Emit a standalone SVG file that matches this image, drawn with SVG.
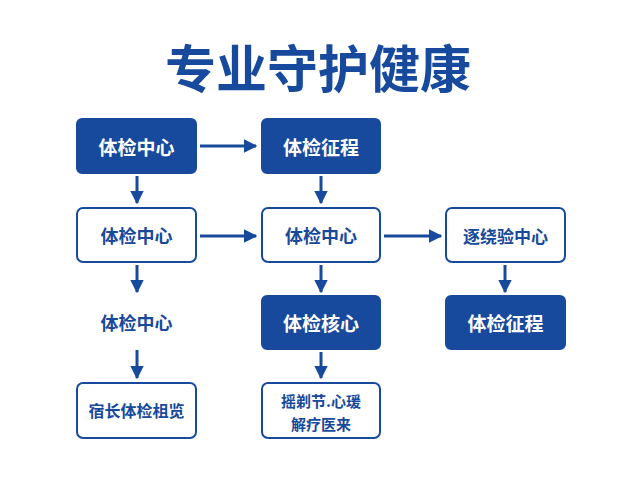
<svg xmlns="http://www.w3.org/2000/svg" width="640" height="480" viewBox="0 0 640 480">
<style>
text{font-family:"Noto Sans CJK SC","Noto Sans",sans-serif;font-weight:bold;text-anchor:middle;dominant-baseline:central}
.f rect{fill:#174a9c;stroke:#174a9c;stroke-width:2}
.f text{fill:#fff;font-size:19px}
.o rect{fill:#fff;stroke:#174a9c;stroke-width:2}
.o text,.p text{fill:#174a9c;font-size:18px}
.c line{stroke:#174a9c;stroke-width:3;marker-end:url(#a)}
</style>
<defs><marker id="a" viewBox="0 0 10 10" refX="9" refY="5" markerWidth="4.5" markerHeight="4.5" orient="auto" markerUnits="strokeWidth"><path d="M0,0L10,5L0,10z" fill="#174a9c"/></marker></defs>
<rect width="640" height="480" fill="#fff"/>
<text x="318" y="66" style="font-size:51px;fill:#174a9c">专业守护健康</text>
<g id="n1" class="f"><rect x="77" y="119" width="119" height="54" rx="5"/><text x="136.5" y="146">体检中心</text></g>
<g id="n2" class="f"><rect x="262" y="119" width="118" height="54" rx="5"/><text x="321" y="146">体检征程</text></g>
<g id="n3" class="o"><rect x="77" y="208" width="119" height="54" rx="6"/><text x="136.5" y="235">体检中心</text></g>
<g id="n4" class="o"><rect x="262" y="208" width="118" height="54" rx="6"/><text x="321" y="235">体检中心</text></g>
<g id="n5" class="o"><rect x="446" y="208" width="119" height="54" rx="6"/><text x="505.5" y="235" style="font-size:17px">逐绕验中心</text></g>
<g id="n6" class="p"><text x="136.5" y="322">体检中心</text></g>
<g id="n7" class="f"><rect x="262" y="296" width="118" height="53" rx="5"/><text x="321" y="322">体检核心</text></g>
<g id="n8" class="f"><rect x="446" y="296" width="119" height="53" rx="5"/><text x="505.5" y="322">体检征程</text></g>
<g id="n9" class="o"><rect x="77" y="383" width="119" height="55" rx="6"/><text x="136.5" y="410" style="font-size:16px">宿长体检柤览</text></g>
<g id="n10" class="o"><rect x="262" y="383" width="118" height="55" rx="6"/><text x="321" y="400" style="font-size:15px">摇剃节.心瑗</text><text x="321" y="423" style="font-size:15px">解疗医来</text></g>
<g id="connectors" class="c">
<line x1="200" y1="146" x2="256" y2="146"/>
<line x1="200" y1="236" x2="256" y2="236"/>
<line x1="384" y1="236" x2="441" y2="236"/>
<line x1="137" y1="176" x2="137" y2="203"/>
<line x1="137" y1="265" x2="137" y2="292"/>
<line x1="137" y1="350" x2="137" y2="378"/>
<line x1="321" y1="176" x2="321" y2="203"/>
<line x1="321" y1="265" x2="321" y2="292"/>
<line x1="321" y1="352" x2="321" y2="378"/>
<line x1="505" y1="265" x2="505" y2="292"/>
</g>
</svg>
